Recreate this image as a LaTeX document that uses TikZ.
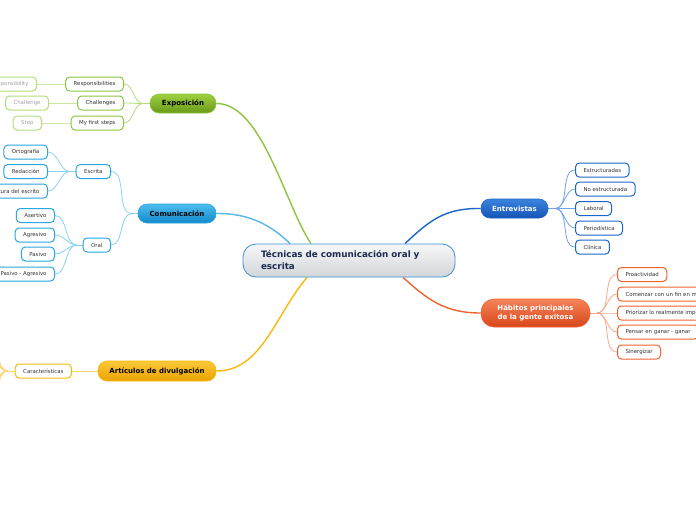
\documentclass[tikz,border=0pt]{standalone}
\usepackage{fontspec}
\setmainfont{DejaVu Sans}
\usetikzlibrary{calc,backgrounds}
\definecolor{txt}{HTML}{333333}
\definecolor{navy}{HTML}{1C2B4E}
\definecolor{gA}{HTML}{9FCF40}\definecolor{gB}{HTML}{6A9A18}\definecolor{gL}{HTML}{8CC63F}\definecolor{gP}{HTML}{B4DC7A}
\definecolor{lA}{HTML}{4CBDEE}\definecolor{lB}{HTML}{1589C9}\definecolor{lL}{HTML}{2AA6E0}\definecolor{lP}{HTML}{8AD2F3}
\definecolor{oA}{HTML}{FDC93A}\definecolor{oB}{HTML}{E9A200}\definecolor{oL}{HTML}{F9B90C}\definecolor{oP}{HTML}{FCD778}
\definecolor{bA}{HTML}{3A85DE}\definecolor{bB}{HTML}{1553B5}\definecolor{bL}{HTML}{1A66CC}\definecolor{bP}{HTML}{6FA3E8}
\definecolor{rA}{HTML}{F5835A}\definecolor{rB}{HTML}{D8471A}\definecolor{rL}{HTML}{F0642F}\definecolor{rP}{HTML}{F8A98A}
\definecolor{cA}{HTML}{F6F7F8}\definecolor{cB}{HTML}{D2D6D9}\definecolor{cL}{HTML}{3D8FD1}
\tikzset{
  leaf/.style={draw, fill=white, rounded corners=4pt, line width=1pt, minimum height=14pt,
    inner xsep=8pt, inner ysep=0pt, font=\fontsize{5.4}{6.5}\selectfont, text=txt},
  branch/.style={rounded corners=9pt, minimum height=19pt, inner sep=0pt, line width=0.6pt,
    font=\bfseries\fontsize{7}{8.5}\selectfont},
  link/.style={line width=0.8pt},
  mainlink/.style={line width=1.4pt},
  fan/.style={out=180, in=0, looseness=0.9},
  fanr/.style={out=0, in=180, looseness=0.9}
}
\begin{document}
\begin{tikzpicture}[x=1pt,y=-1pt]
\useasboundingbox (0,0) rectangle (696,520);
\clip (0,0) rectangle (696,520);

% ---------- central and main branches ----------
\node[draw=cL, line width=0.8pt, top color=cA, bottom color=cB, rounded corners=13pt,
  minimum width=212pt, minimum height=33pt, text width=176pt, inner xsep=18pt, align=left,
  font=\bfseries\fontsize{8.8}{12}\selectfont, text=navy] (c) at (349,260.5)
  {Técnicas de comunicación oral y\\escrita};

\node[branch, draw=gL, top color=gA, bottom color=gB, minimum width=66pt] (exp) at (183,103.5) {Exposición};
\node[branch, draw=lL, top color=lA, bottom color=lB, minimum width=78pt] (com) at (177,213.5) {Comunicación};
\node[branch, draw=oL, top color=oA, bottom color=oB, minimum width=118pt, minimum height=20pt] (art) at (157,371) {Artículos de divulgación};
\node[branch, draw=bL, top color=bA, bottom color=bB, minimum width=67pt, text=white] (ent) at (514.5,208.5) {Entrevistas};
\node[branch, draw=rL, top color=rA, bottom color=rB, minimum width=109pt, minimum height=28pt,
  rounded corners=13pt, align=center, text=white] (hab) at (535.5,313) {Hábitos principales\\de la gente exitosa};

\coordinate (cExp) at ($(c.north)+(-38,0)$);
\coordinate (cCom) at ($(c.north)+(-59,0)$);
\coordinate (cArt) at ($(c.south)+(-42,0)$);
\coordinate (cEnt) at ($(c.north)+(56,0)$);
\coordinate (cHab) at ($(c.south)+(54,0)$);

% ---------- Exposición ----------
\node[leaf, draw=gL, anchor=east] (resp) at (124,84) {Responsibilities};
\node[leaf, draw=gL, anchor=east] (chal) at (124,103) {Challenges};
\node[leaf, draw=gL, anchor=east] (mfs) at (124,123) {My first steps};
\node[leaf, draw=gP, text=txt!45, anchor=east] (respy) at (37,84) {Responsibility};
\node[leaf, draw=gP, text=txt!45, anchor=east] (chal1) at (49,103) {Challenge};
\node[leaf, draw=gP, text=txt!45, anchor=east] (step) at (42,123) {Step};
\coordinate (eJ) at (143,103.5);

% ---------- Comunicación ----------
\node[leaf, draw=lL, anchor=east] (esc) at (111,171.5) {Escrita};
\node[leaf, draw=lL, anchor=east] (oral) at (111,245) {Oral};
\node[leaf, draw=lL, anchor=east] (orto) at (48,152) {Ortografía};
\node[leaf, draw=lL, anchor=east] (reda) at (48,171.5) {Redacción};
\node[leaf, draw=lL, anchor=east] (estr) at (48,191) {Estructura del escrito};
\node[leaf, draw=lL, anchor=east] (aser) at (55,215.5) {Asertivo};
\node[leaf, draw=lL, anchor=east] (agre) at (55,235) {Agresivo};
\node[leaf, draw=lL, anchor=east] (pasi) at (55,254) {Pasivo};
\node[leaf, draw=lL, anchor=east] (paag) at (55,274) {Pasivo - Agresivo};
\coordinate (cJ) at (132,213.5);
\coordinate (escJ) at (70,171.5);
\coordinate (oJ) at (77,245);

% ---------- Artículos ----------
\node[leaf, draw=oL, anchor=east] (car) at (72,371) {Características};
\coordinate (aJ) at (8,371);

% ---------- Entrevistas ----------
\node[leaf, draw=bL, anchor=west] (e1) at (575,170) {Estructuradas};
\node[leaf, draw=bL, anchor=west] (e2) at (575,189) {No estructurada};
\node[leaf, draw=bL, anchor=west] (e3) at (575,208.5) {Laboral};
\node[leaf, draw=bL, anchor=west] (e4) at (575,228) {Periodística};
\node[leaf, draw=bL, anchor=west] (e5) at (575,247) {Clínica};
\coordinate (nJ) at (555,208.5);

% ---------- Hábitos ----------
\node[leaf, draw=rL, anchor=west] (h1) at (617,274.5) {Proactividad};
\node[leaf, draw=rL, anchor=west] (h2) at (617,294) {Comenzar con un fin en mente};
\node[leaf, draw=rL, anchor=west] (h3) at (617,313) {Priorizar lo realmente importante};
\node[leaf, draw=rL, anchor=west] (h4) at (617,332) {Pensar en ganar - ganar};
\node[leaf, draw=rL, anchor=west] (h5) at (617,352) {Sinergizar};
\coordinate (hJ) at (597,313);

\begin{pgfonlayer}{background}
\fill[white] (0,0) rectangle (696,520);
% main connectors
\draw[mainlink, draw=gL] (exp.east) .. controls (262,103) and (285,205) .. (cExp);
\draw[mainlink, draw=lL!80] (com.east) .. controls (250,213) and (272,226) .. (cCom);
\draw[mainlink, draw=oL] (art.east) .. controls (262,371) and (275,315) .. (cArt);
\draw[mainlink, draw=bL] (ent.west) .. controls (445,208) and (430,220) .. (cEnt);
\draw[mainlink, draw=rL] (hab.west) .. controls (445,313) and (428,300) .. (cHab);
% Exposición
\draw[link, draw=gP] (exp.west) -- (eJ);
\foreach \n in {resp,chal,mfs} \draw[link, draw=gP] (eJ) to[fan] (\n.east);
\draw[link, draw=gP!70] (resp.west) -- (respy.east);
\draw[link, draw=gP!70] (chal.west) -- (chal1.east);
\draw[link, draw=gP!70] (mfs.west) -- (step.east);
% Comunicación
\draw[link, draw=lP] (com.west) -- (cJ);
\draw[link, draw=lP] (cJ) to[fan] (esc.east);
\draw[link, draw=lP] (cJ) to[fan] (oral.east);
\draw[link, draw=lP] (esc.west) -- (escJ);
\foreach \n in {orto,reda,estr} \draw[link, draw=lP] (escJ) to[fan] (\n.east);
\draw[link, draw=lP] (oral.west) -- (oJ);
\foreach \n in {aser,agre,pasi,paag} \draw[link, draw=lP] (oJ) to[fan] (\n.east);
% Artículos
\draw[link, draw=oP] (art.west) -- (car.east);
\draw[link, draw=oP] (car.west) -- (aJ);
\foreach \yy in {300,320,338,355,388,405,422,442} {
  \coordinate (aE\yy) at (-12,\yy);
  \draw[link, draw=oP] (aJ) to[fan] (aE\yy);
}
% Entrevistas
\draw[link, draw=bP] (ent.east) -- (nJ);
\foreach \n in {e1,e2,e3,e4,e5} \draw[link, draw=bP] (nJ) to[fanr] (\n.west);
% Hábitos
\draw[link, draw=rP] (hab.east) -- (hJ);
\foreach \n in {h1,h2,h3,h4,h5} \draw[link, draw=rP] (hJ) to[fanr] (\n.west);
\end{pgfonlayer}
\end{tikzpicture}
\end{document}
